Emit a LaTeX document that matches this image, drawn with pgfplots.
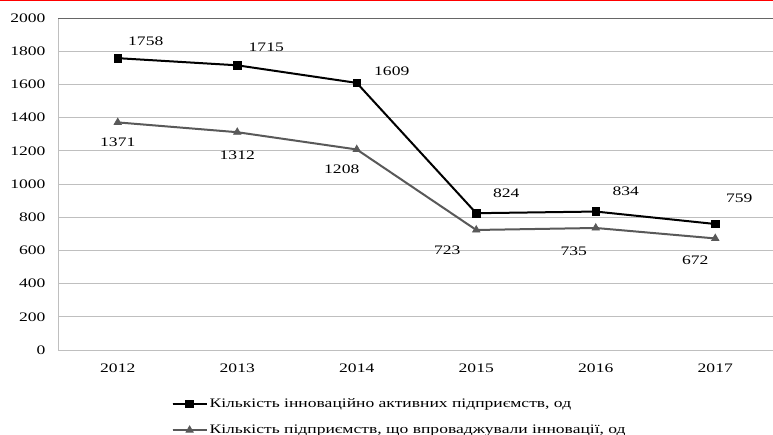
\documentclass[border=0pt]{standalone}
\usepackage{pgfplots}
\pgfplotsset{compat=1.18}
\usepackage{pgfplotstable}
\usepackage{fontspec}
\setmainfont{Liberation Serif}[FakeStretch=1.35]
\definecolor{grayline}{HTML}{595959}
\definecolor{gridc}{HTML}{BFBFBF}
\pgfplotstableread{
x y dx dy
0 1758 28 17
1 1715 29 18
2 1609 35 12
3 824 30 20
4 834 30 20
5 759 24 26
}\seriesA
\pgfplotstableread{
x y dx dy
0 1371 0 -20
1 1312 0 -23
2 1208 -15 -20
3 723 -29 -20
4 735 -22 -23
5 672 -20 -22
}\seriesB
\begin{document}
\begin{tikzpicture}[x=1pt,y=1pt]
\begin{axis}[
  scale only axis,
  width=717pt, height=332pt,
  at={(58pt,85pt)}, anchor=south west,
  xmin=-0.5, xmax=5.5,
  ymin=0, ymax=2000,
  ytick={0,200,...,2000},
  xtick={0,1,2,3,4,5},
  xticklabels={2012,2013,2014,2015,2016,2017},
  /pgf/number format/assume math mode=true,
  /pgf/number format/1000 sep={},
  tick label style={font=\fontsize{13}{15}\selectfont},
  yticklabel style={xshift=-9pt},
  xticklabel style={yshift=-10pt},
  tick style={draw=none},
  ymajorgrids,
  grid style={gridc, line width=0.8pt},
  axis x line*=bottom,
  axis y line*=left,
  x axis line style={gridc, line width=0.8pt, -},
  y axis line style={gridc, line width=0.8pt, -},
  clip=false,
  legend style={at={(0.154,-0.134)}, anchor=north west, draw=none, fill=none,
    font=\fontsize{13}{15}\selectfont, row sep=12pt,
    /tikz/every even column/.append style={column sep=0pt}},
  legend cell align=left,
  legend image code/.code={
    \draw[#1] (0pt,0pt) -- (34pt,0pt);
    \draw[#1, mark repeat=2, mark phase=2] plot coordinates {(0pt,0pt) (17pt,0pt) (34pt,0pt)};
  },
  nodes near coords style={font=\fontsize{13}{15}\selectfont, color=black},
]
\draw[gray!80!black, line width=0.8pt] (axis cs:-0.5,2000) -- (axis cs:5.5,2000);
\addplot[black, line width=2pt, mark=square*, mark size=3.8pt,
  mark options={solid, line width=0.8pt},
  visualization depends on={\thisrow{dx} \as \dx},
  visualization depends on={\thisrow{dy} \as \dy},
  nodes near coords={\pgfplotspointmeta},
  point meta=explicit symbolic,
  nodes near coords style={anchor=center, xshift=\dx pt, yshift=\dy pt}]
  table[x=x, y=y, meta=y] {\seriesA};
\addlegendentry{Кількість інноваційно активних підприємств, од}
\addplot[grayline, line width=2pt, mark=triangle*, mark size=4.2pt,
  mark options={solid, line width=0.8pt},
  visualization depends on={\thisrow{dx} \as \dx},
  visualization depends on={\thisrow{dy} \as \dy},
  nodes near coords={\pgfplotspointmeta},
  point meta=explicit symbolic,
  nodes near coords style={anchor=center, xshift=\dx pt, yshift=\dy pt}]
  table[x=x, y=y, meta=y] {\seriesB};
\addlegendentry{Кількість підприємств, що впроваджували інновації, од}
\end{axis}
\draw[red, line width=1.2pt] (0pt,434.4pt) -- (773pt,434.4pt);
\pgfresetboundingbox
\useasboundingbox (0pt,0pt) rectangle (773pt,435pt);
\end{tikzpicture}
\end{document}
